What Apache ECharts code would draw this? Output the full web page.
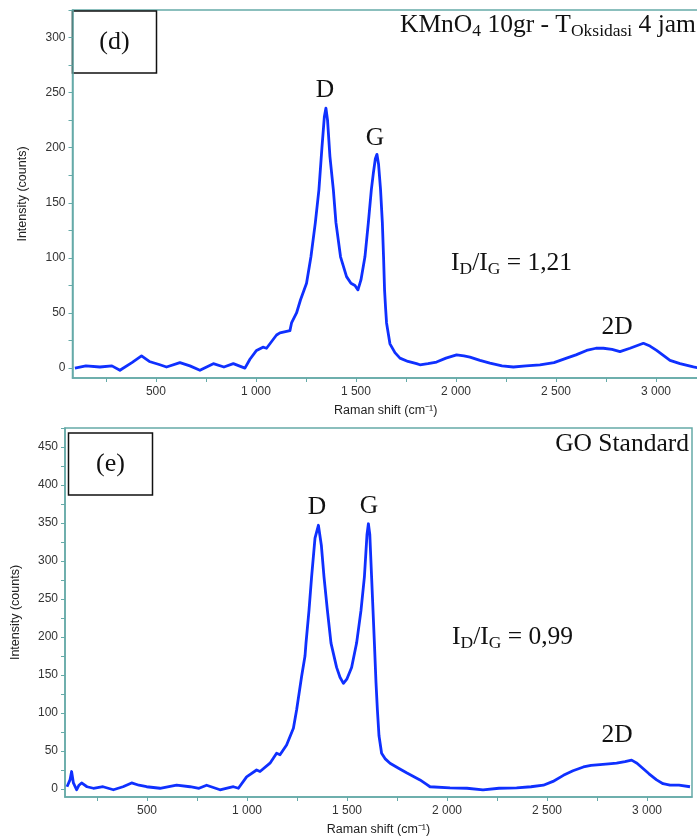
<!DOCTYPE html>
<html>
<head>
<meta charset="utf-8">
<script src="https://cdn.jsdelivr.net/npm/echarts@6/dist/echarts.min.js"></script>
<style>
  html, body { margin: 0; padding: 0; background: #fff; }
  #chart { width: 697px; height: 838px; }
</style>
</head>
<body>
<div id="chart"></div>
<script>
// spektrum (d) KMnO4 10gr - 4 jam
const shiftD = [95, 150, 220, 280, 320, 380, 428, 467, 520, 553, 620, 670, 720, 787, 840, 887, 945, 970, 1003, 1035, 1053, 1103, 1120, 1170, 1178, 1203, 1223, 1253, 1275, 1297, 1315, 1330, 1342, 1350, 1358, 1370, 1387, 1400, 1423, 1453, 1475, 1495, 1510, 1525, 1545, 1562, 1577, 1587, 1597, 1605, 1613, 1623, 1632, 1638, 1643, 1648, 1653, 1670, 1695, 1720, 1760, 1803, 1820, 1860, 1903, 1950, 2003, 2040, 2070, 2120, 2170, 2230, 2287, 2350, 2420, 2490, 2553, 2600, 2653, 2700, 2737, 2780, 2820, 2870, 2937, 2970, 3003, 3040, 3070, 3120, 3187, 3215];
const intD = [0, 2, 1, 2, -2, 5, 11, 6, 3, 1, 5, 2, -2, 4, 1, 4, 0, 8, 16, 19, 18, 30, 32, 34, 41, 50, 62, 77, 101, 132, 162, 200, 228, 236, 225, 192, 162, 132, 101, 83, 77, 75, 71, 80, 101, 132, 162, 177, 190, 194, 185, 162, 132, 101, 71, 55, 41, 22, 14, 9, 6, 4, 3, 4, 5.5, 9, 12, 11, 10, 7, 4.5, 2, 1, 2, 3, 5, 9, 12, 16, 18, 18, 17, 15, 18, 22.5, 20, 16, 11, 7, 4, 1, 0];

// spektrum (e) GO standard
const shiftE = [100, 105, 115, 123, 132, 148, 160, 173, 200, 232, 280, 332, 380, 423, 460, 498, 565, 648, 715, 760, 798, 865, 932, 957, 998, 1048, 1065, 1115, 1148, 1165, 1198, 1232, 1248, 1273, 1290, 1295, 1310, 1323, 1340, 1357, 1372, 1385, 1402, 1420, 1448, 1465, 1482, 1500, 1523, 1548, 1570, 1587, 1600, 1607, 1614, 1623, 1637, 1645, 1652, 1660, 1673, 1690, 1715, 1760, 1800, 1865, 1898, 1915, 2015, 2100, 2180, 2260, 2348, 2420, 2482, 2530, 2582, 2630, 2682, 2720, 2765, 2808, 2848, 2890, 2923, 2950, 2980, 3010, 3048, 3080, 3115, 3160, 3215];
const intE = [3, 5, 12, 23, 8, -1, 5, 8, 3, 1, 3, -1, 3, 8, 5, 3, 1, 5, 3, 1, 5, -1, 3, 1, 16, 25, 23, 34, 47, 45, 58, 80, 104, 148, 175, 192, 235, 279, 330, 347, 320, 279, 235, 192, 160, 147, 139, 145, 160, 192, 235, 279, 335, 349, 335, 279, 192, 140, 104, 70, 47, 40, 34, 27, 21, 12, 6, 3, 1.5, 1, -1, 1, 1.5, 3, 5, 10, 18, 24, 29, 31, 32, 33, 34, 36, 38, 34, 27, 20, 12, 7, 5, 5, 3];

const xLabels = [500, 1000, 1500, 2000, 2500, 3000];
const xTicks = [250, 500, 750, 1000, 1250, 1500, 1750, 2000, 2250, 2500, 2750, 3000];
const yLabelsD = [0, 50, 100, 150, 200, 250, 300];
const yTicksD = [0, 25, 50, 75, 100, 125, 150, 175, 200, 225, 250, 275, 300, 325];
const yLabelsE = [0, 50, 100, 150, 200, 250, 300, 350, 400, 450];
const yTicksE = [0, 25, 50, 75, 100, 125, 150, 175, 200, 225, 250, 275, 300, 325, 350, 375, 400, 425, 450, 475];

const teal = '#66aaa8';
const serif = '"Liberation Serif", "Times New Roman", serif';
const sans = '"Liberation Sans", Arial, sans-serif';

function fmtShift(v) {
  return v >= 1000 ? Math.floor(v / 1000) + ' ' + String(v % 1000).padStart(3, '0') : String(v);
}

function xAxisOf(gi, min, max) {
  return {
    type: 'value', gridIndex: gi, min: min, max: max,
    name: 'Raman shift (cm⁻¹)', nameLocation: 'middle', nameGap: 26,
    nameTextStyle: { fontFamily: sans, fontSize: 12.5, color: '#222' },
    axisLine: { onZero: false, lineStyle: { color: teal, width: 1.5 } },
    axisTick: { show: true, length: 4, customValues: xTicks, lineStyle: { color: teal } },
    axisLabel: { customValues: xLabels, margin: 8, fontFamily: sans, fontSize: 12, color: '#333', formatter: fmtShift },
    splitLine: { show: false }
  };
}

function yAxisOf(gi, min, max, labels, ticks) {
  return {
    type: 'value', gridIndex: gi, min: min, max: max,
    name: 'Intensity (counts)', nameLocation: 'middle', nameGap: 43,
    nameTextStyle: { fontFamily: sans, fontSize: 12.5, color: '#222' },
    axisLine: { onZero: false, lineStyle: { color: teal, width: 1.5 } },
    axisTick: { show: true, length: 4, customValues: ticks, lineStyle: { color: teal } },
    axisLabel: { customValues: labels, margin: 7, fontFamily: sans, fontSize: 12, color: '#333' },
    splitLine: { show: false }
  };
}

const rich = {
  a: { fontFamily: serif, fontSize: 25.5, color: '#111' },
  s: { fontFamily: serif, fontSize: 17.5, color: '#111', padding: [13, 0, 0, 0] }
};

function label(x, y, text, align) {
  return {
    type: 'text', x: x, y: y, z: 100,
    style: { text: text, rich: rich, align: align || 'center', verticalAlign: 'middle', fontFamily: serif, fontSize: 25.5, fill: '#111' }
  };
}

function panelBox(x, y, w, h, text) {
  return {
    type: 'group', z: 100,
    children: [
      { type: 'rect', shape: { x: x, y: y, width: w, height: h }, style: { fill: '#fff', stroke: '#111', lineWidth: 1.5 } },
      { type: 'text', x: x + w / 2, y: y + h / 2, style: { text: text, align: 'center', verticalAlign: 'middle', fontFamily: serif, fontSize: 26, fill: '#111' } }
    ]
  };
}

const chart = echarts.init(document.getElementById('chart'), null, { renderer: 'canvas' });

chart.setOption({
  animation: false,
  backgroundColor: '#fff',
  grid: [
    { left: 72.5, top: 10, right: -2, bottom: 460, show: true, borderColor: teal, borderWidth: 1.5, outerBoundsMode: 'none' },
    { left: 65, top: 428, right: 5, bottom: 41, show: true, borderColor: teal, borderWidth: 1.5, outerBoundsMode: 'none' }
  ],
  xAxis: [xAxisOf(0, 83, 3215), xAxisOf(1, 90, 3225)],
  yAxis: [yAxisOf(0, -9, 325, yLabelsD, yTicksD), yAxisOf(1, -10.5, 475, yLabelsE, yTicksE)],
  series: [
    {
      type: 'line', xAxisIndex: 0, yAxisIndex: 0, showSymbol: false,
      data: shiftD.map((s, i) => [s, intD[i]]),
      lineStyle: { color: '#0f30ff', width: 2.8, join: 'round' }
    },
    {
      type: 'line', xAxisIndex: 1, yAxisIndex: 1, showSymbol: false,
      data: shiftE.map((s, i) => [s, intE[i]]),
      lineStyle: { color: '#0f30ff', width: 2.8, join: 'round' }
    }
  ],
  graphic: [
    panelBox(72.5, 11, 84, 62, '(d)'),
    panelBox(68.5, 433, 84, 62, '(e)'),
    label(400, 25, '{a|KMnO}{s|4}{a| 10gr - T}{s|Oksidasi}{a| 4 jam}', 'left'),
    label(325, 90, '{a|D}'),
    label(375, 138, '{a|G}'),
    label(451, 263, '{a|I}{s|D}{a|/I}{s|G}{a| = 1,21}', 'left'),
    label(617, 327, '{a|2D}'),
    label(689, 444, '{a|GO Standard}', 'right'),
    label(317, 507, '{a|D}'),
    label(369, 506, '{a|G}'),
    label(452, 637, '{a|I}{s|D}{a|/I}{s|G}{a| = 0,99}', 'left'),
    label(617, 735, '{a|2D}')
  ]
});
</script>
</body>
</html>
